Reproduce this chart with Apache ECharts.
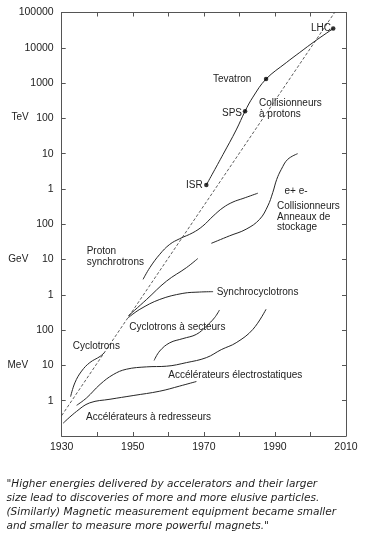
<!DOCTYPE html>
<html>
<head>
<meta charset="utf-8">
<script src="https://cdn.jsdelivr.net/npm/echarts@6/dist/echarts.min.js"></script>
<style>
html,body{margin:0;padding:0;background:#fff;}
#c{width:372px;height:544px;}
</style>
</head>
<body>
<div id="c"></div>
<script>
// ---- data (energy in MeV) ----
const xTicks = [1930, 1950, 1970, 1990, 2010];

const trendYears = [1930, 2006.8];
const trendMeV = [0.38, 1e11];

const protonColliderYears = [1970.7, 1975.4, 1979.1, 1981.6, 1983.8, 1987.5, 1993.2, 1997.0, 2001.3, 2006.4];
const protonColliderMeV = [1.3e6, 9.5e6, 4.7e7, 1.6e8, 4.0e8, 1.3e9, 3.8e9, 7.4e9, 1.55e10, 3.5e10];

const machineNames = ['ISR', 'SPS', 'Tevatron', 'LHC'];
const machineYears = [1970.7, 1981.6, 1987.5, 2006.4];
const machineMeV = [1.3e6, 1.6e8, 1.3e9, 3.5e10];

const eeColliderYears = [1972.1, 1977.2, 1981.9, 1985.7, 1988.0, 1989.4, 1990.5, 1991.8, 1993.6, 1996.4];
const eeColliderMeV = [28800, 46800, 72400, 138000, 331000, 794000, 1.86e6, 3.6e6, 6.9e6, 1.0e7];

const protonSynchYears = [1952.9, 1954.8, 1957.6, 1960.4, 1963.2, 1966.9, 1969.7, 1972.6, 1975.4, 1978.2, 1981.0, 1985.2];
const protonSynchMeV = [2750, 5900, 14100, 26900, 38900, 57500, 89000, 170000, 295000, 427000, 537000, 759000];

const electronSynchYears = [1948.7, 1953.9, 1959.5, 1965.1, 1968.3];
const electronSynchMeV = [251, 741, 2450, 5890, 10700];

const synchroCycYears = [1948.7, 1952.0, 1957.6, 1964.1, 1968.8, 1972.6];
const synchroCycMeV = [224, 389, 741, 1100, 1200, 1230];

const sectorCycYears = [1956.0, 1957.6, 1960.4, 1964.1, 1967.9, 1970.7, 1973.0, 1974.4];
const sectorCycMeV = [13.8, 25.7, 43.7, 57.5, 75.9, 129, 224, 372];

const cyclotronYears = [1932.5, 1933.7, 1935.6, 1937.9, 1940.8, 1942.0];
const cyclotronMeV = [1.3, 3.2, 6.9, 12, 18, 23];

const electrostaticYears = [1934.2, 1937.0, 1940.8, 1944.5, 1948.2, 1953.9, 1959.5, 1965.1, 1970.7, 1974.9, 1979.1, 1983.8, 1987.5];
const electrostaticMeV = [0.74, 1.2, 2.9, 5.5, 7.8, 9.1, 9.5, 12, 16.6, 28, 44, 105, 390];

const rectifierYears = [1930.4, 1934.2, 1937.9, 1943.6, 1950.1, 1957.6, 1963.2, 1967.9];
const rectifierMeV = [0.23, 0.50, 0.87, 1.1, 1.4, 1.86, 2.6, 3.5];

const caption = '"Higher energies delivered by accelerators and their larger\nsize lead to discoveries of more and more elusive particles.\n(Similarly) Magnetic measurement equipment became smaller\nand smaller to measure more powerful magnets."';

// ---- chart ----
const zip = (xs, ys) => xs.map((x, i) => [x, ys[i]]);
const INK = '#262626';
const FONT = '"Liberation Sans", Arial, sans-serif';

function curve(name, xs, ys) {
  return {
    name, type: 'line', data: zip(xs, ys), smooth: 0.4, symbol: 'none',
    lineStyle: { color: INK, width: 1 }, z: 3, silent: true
  };
}

function yLabel(v) {
  const e = Math.round(Math.log10(v));
  if (e < 0) return '';
  const k = e < 6 ? e % 3 : e - 6;
  return String(Math.pow(10, k));
}

const axisCommonX = {
  type: 'value', min: 1930, max: 2010, interval: 10,
  axisLine: { show: true, lineStyle: { color: '#555', width: 1 } },
  axisTick: { show: true, inside: true, length: 4, lineStyle: { color: '#555' } },
  splitLine: { show: false }
};
const axisCommonY = {
  type: 'log', logBase: 10, min: 0.1, max: 1e11, interval: 1,
  axisLine: { show: true, lineStyle: { color: '#555', width: 1 } },
  axisTick: { show: true, inside: true, length: 4, lineStyle: { color: '#555' } },
  splitLine: { show: false }, minorTick: { show: false }
};

const annotations = [
  ['LHC', 311, 28], ['Tevatron', 213, 79], ['SPS', 222, 113.5], ['ISR', 186, 185.7],
  ['Collisionneurs', 259, 103.5], ['à protons', 259, 114],
  ['e+ e-', 284.5, 191.7], ['Collisionneurs', 277, 206.7], ['Anneaux de', 277, 217.5], ['stockage', 277, 227.7],
  ['Proton', 86.7, 251.7], ['synchrotrons', 86.7, 262.5],
  ['Synchrocyclotrons', 216.7, 292], ['Cyclotrons à secteurs', 129.3, 327.7],
  ['Cyclotrons', 72.7, 346.7], ['Accélérateurs électrostatiques', 168.3, 375],
  ['Accélérateurs à redresseurs', 86, 417.5],
  ['TeV', 11.5, 117.7], ['GeV', 8.3, 259], ['MeV', 7.5, 365]
];

const chart = echarts.init(document.getElementById('c'), null, { renderer: 'canvas' });
chart.setOption({
  animation: false,
  backgroundColor: '#fff',
  grid: { left: 61.7, right: 26, top: 12.5, bottom: 108, containLabel: false },
  xAxis: [
    Object.assign({}, axisCommonX, {
      position: 'bottom',
      axisLabel: {
        color: '#222', fontSize: 10.5, fontFamily: FONT, margin: 6,
        formatter: v => (xTicks.indexOf(v) >= 0 ? String(v) : '')
      }
    }),
    Object.assign({}, axisCommonX, { position: 'top', axisLabel: { show: false } })
  ],
  yAxis: [
    Object.assign({}, axisCommonY, {
      position: 'left',
      axisLabel: { color: '#222', fontSize: 10.5, fontFamily: FONT, margin: 8, formatter: yLabel }
    }),
    Object.assign({}, axisCommonY, { position: 'right', axisLabel: { show: false } })
  ],
  series: [
    {
      name: 'trend', type: 'line', data: zip(trendYears, trendMeV), symbol: 'none', silent: true,
      lineStyle: { color: '#333', width: 0.8, type: [3, 2] }, z: 2
    },
    curve('Proton colliders', protonColliderYears, protonColliderMeV),
    curve('e+e- colliders', eeColliderYears, eeColliderMeV),
    curve('Proton synchrotrons', protonSynchYears, protonSynchMeV),
    curve('Electron synchrotrons', electronSynchYears, electronSynchMeV),
    curve('Synchrocyclotrons', synchroCycYears, synchroCycMeV),
    curve('Sector cyclotrons', sectorCycYears, sectorCycMeV),
    curve('Cyclotrons', cyclotronYears, cyclotronMeV),
    curve('Electrostatic', electrostaticYears, electrostaticMeV),
    curve('Rectifier', rectifierYears, rectifierMeV),
    {
      name: 'machines', type: 'scatter', symbolSize: 4.5, z: 4, silent: true,
      itemStyle: { color: '#000' },
      data: machineYears.map((y, i) => ({ value: [y, machineMeV[i]], name: machineNames[i] }))
    }
  ],
  graphic: annotations.map(a => ({
    type: 'text', x: a[1], y: a[2], silent: true,
    style: { text: a[0], fill: '#222', font: '10px ' + FONT, verticalAlign: 'middle', align: 'left' }
  })).concat([{
    type: 'text', x: 6.5, y: 477, silent: true,
    style: {
      text: caption, fill: '#1e1e1e', font: 'italic 10.5px "DejaVu Sans", Verdana, sans-serif',
      lineHeight: 14, verticalAlign: 'top', align: 'left'
    }
  }])
});
</script>
</body>
</html>
